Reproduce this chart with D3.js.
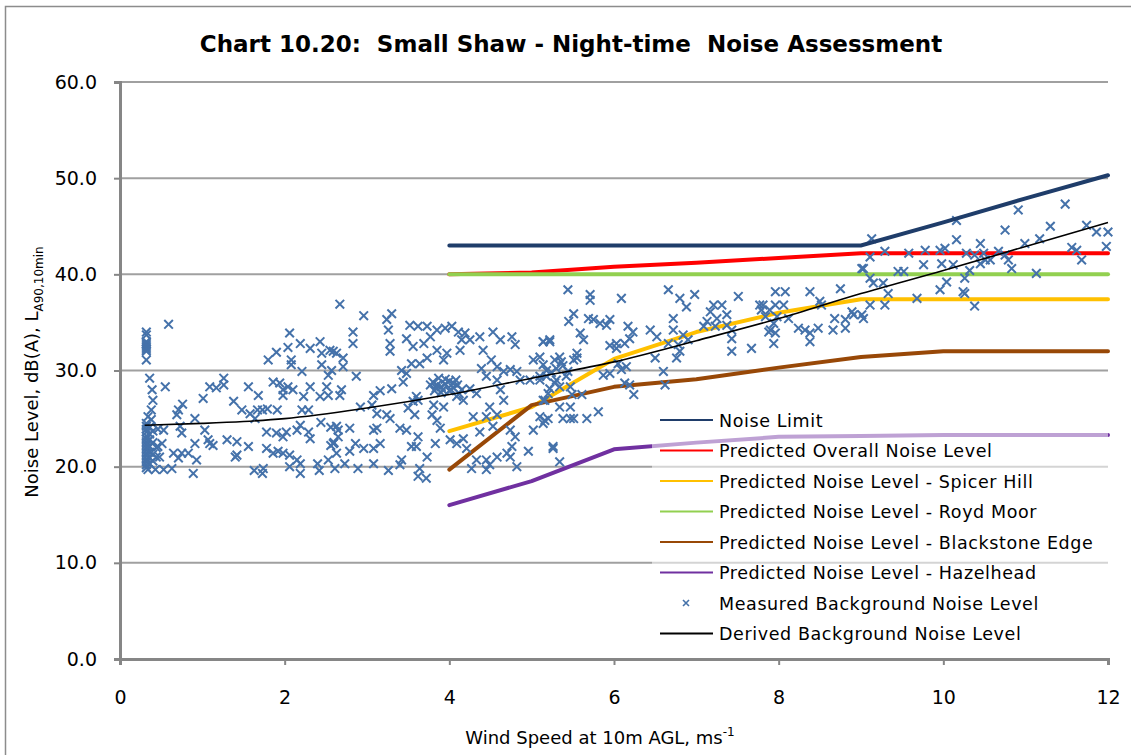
<!DOCTYPE html>
<html>
<head>
<meta charset="utf-8">
<script src="https://cdnjs.cloudflare.com/ajax/libs/d3/7.8.5/d3.min.js"></script>
<style>
  body { margin: 0; background: #fff; }
  text { font-family: "DejaVu Sans", Verdana, sans-serif; fill: #000; }
</style>
</head>
<body>
<div id="chart"></div>
<script>
// wind speeds for the predicted curves
var windSpeeds = [4, 5, 6, 7, 8, 9, 10, 11, 12];
var noiseLimit = [43, 43, 43, 43, 43, 43, 45.4, 47.9, 50.3];
var overallLevel = [40.0, 40.2, 40.8, 41.2, 41.7, 42.2, 42.2, 42.2, 42.2];
var spicerHill = [23.7, 26.2, 31.2, 34.0, 36.0, 37.4, 37.4, 37.4, 37.4];
var roydMoor = [40, 40, 40, 40, 40, 40, 40, 40, 40];
var blackstoneEdge = [19.7, 26.4, 28.3, 29.1, 30.3, 31.4, 32.0, 32.0, 32.0];
var hazelhead = [16.0, 18.5, 21.8, 22.5, 23.1, 23.2, 23.3, 23.3, 23.3];

// derived background curve
var derivedX = [0.3, 1, 1.5, 2, 3, 4, 5, 6, 7, 8, 9, 10, 11, 12];
var derivedY = [24.3, 24.5, 24.7, 25.0, 26.1, 27.5, 29.2, 30.9, 33.1, 35.4, 38.0, 40.4, 42.9, 45.4];

var xTicks = [0, 2, 4, 6, 8, 10, 12];
var yTicks = [0, 10, 20, 30, 40, 50, 60];

// measured background noise, [wind speed, dB]
var measured = [
  [0.32,34.0],[0.32,33.7],[0.32,33.0],[0.32,32.8],[0.32,32.6],[0.32,32.4],[0.32,32.2],[0.32,32.0],
  [0.32,31.1],[0.36,29.2],[0.39,28.0],[0.40,26.9],[0.38,25.9],[0.34,25.2],[0.38,24.9],
  [0.32,24.5],[0.32,24.2],[0.32,23.9],[0.32,23.6],[0.32,23.2],[0.32,22.9],[0.32,22.6],[0.32,22.3],
  [0.32,22.0],[0.32,21.7],[0.32,21.4],[0.32,21.1],[0.32,20.8],[0.32,20.5],[0.32,20.2],[0.32,19.9],
  [0.36,24.1],[0.36,23.4],[0.36,22.8],[0.36,22.1],[0.36,21.5],[0.36,20.9],[0.36,20.3],
  [0.40,23.7],[0.40,22.5],[0.40,21.3],[0.40,20.6],[0.44,22.0],[0.44,21.0],
  [0.59,34.8],[0.55,28.3],[0.71,25.9],[0.69,25.4],[0.76,26.5],[0.73,24.2],[0.75,23.5],
  [0.91,25.0],[1.03,23.8],[1.01,27.1],[1.09,28.3],[1.17,28.2],[1.26,29.2],[1.26,28.5],
  [1.38,26.8],[1.48,25.9],[1.56,28.3],[1.58,25.5],[1.64,25.0],[1.67,25.9],[1.68,27.4],
  [1.73,25.9],[1.79,26.0],[1.91,25.9],[1.86,28.8],[1.94,28.7],[1.98,28.0],[2.04,28.3],
  [2.10,28.0],[1.98,27.4],[2.23,27.3],[2.31,28.3],[2.29,25.9],[2.21,25.9],[2.19,24.3],
  [2.15,23.8],[2.29,23.6],[2.31,22.9],[1.98,23.1],[1.90,23.5],[1.78,23.6],[2.02,23.6],
  [1.78,21.9],[1.86,21.4],[1.92,21.6],[1.98,21.4],[2.06,21.2],[2.15,20.7],[2.19,20.3],
  [2.06,20.0],[2.19,19.3],[2.40,20.3],[2.42,19.6],[2.53,20.7],[2.56,22.2],[2.60,22.5],
  [2.65,23.1],[2.44,24.6],[2.56,24.1],[2.65,23.8],[2.53,27.4],[2.43,27.3],[1.63,19.6],
  [1.73,19.3],[1.74,19.8],[1.56,22.1],[1.30,22.8],[1.42,22.6],[1.42,21.2],[1.40,21.0],
  [1.09,22.4],[1.13,22.2],[1.07,22.8],[0.91,22.4],[0.93,20.7],[0.89,19.3],[0.83,21.4],
  [0.75,21.4],[0.71,20.9],[0.65,21.4],[0.63,19.8],[0.53,19.7],[0.43,19.7],[0.34,19.7],
  [0.46,22.1],[0.48,21.0],[0.51,22.4],[0.53,23.8],[0.46,23.9],
  [2.06,33.9],[2.04,32.4],[2.19,32.8],[1.90,31.9],[1.80,31.1],[2.08,31.1],[2.08,30.6],
  [2.31,32.3],[2.43,33.0],[2.45,31.8],[2.55,32.1],[2.63,31.8],[2.21,29.9],[2.45,30.6],
  [2.53,29.5],[2.51,28.3],
  [2.67,36.9],[2.96,35.7],[3.30,35.9],[3.24,35.3],[3.26,34.2],[2.83,34.0],[2.83,32.8],
  [3.28,32.8],[3.28,32.0],[3.52,34.7],[3.62,34.6],[3.73,34.6],[3.77,33.5],[3.85,34.2],
  [3.95,34.4],[4.03,34.6],[4.11,34.0],[4.19,33.9],[4.15,33.2],[4.13,32.1],[4.25,33.2],
  [4.37,33.5],[4.41,32.1],[4.53,34.0],[4.62,33.2],[4.76,33.5],[4.80,32.7],[5.14,33.0],
  [5.22,33.0],[3.48,33.3],[3.56,32.5],[3.69,32.8],[3.85,32.1],[3.97,31.8],[3.93,31.1],
  [3.73,31.3],[3.64,30.7],[3.54,30.7],[3.42,30.0],[3.48,29.7],[3.44,28.8],[3.30,28.1],
  [2.87,29.4],[2.71,31.3],[2.71,30.4],[2.59,32.0],[2.57,30.0],[2.69,28.0],[2.67,27.4],
  [3.80,28.8],[3.85,28.5],[3.90,28.3],[3.95,28.6],[4.00,28.9],[4.05,28.2],[4.10,28.5],
  [3.82,27.9],[3.90,27.7],[4.00,27.9],[4.12,27.6],[3.95,29.1],[4.08,29.0],[4.15,28.0],
  [3.87,29.2],[4.02,28.0],[3.77,28.5],[3.92,28.0],[4.05,28.7],[3.84,28.2],
  [3.60,27.3],[3.62,26.9],[3.50,26.1],[3.58,25.4],[3.56,26.8],[3.81,26.4],[3.93,26.2],
  [3.79,25.4],[3.85,24.8],[3.89,24.0],[4.01,22.8],[4.09,22.4],[4.17,22.9],[4.21,21.9],
  [4.09,27.3],[4.17,26.9],[4.25,28.1],[4.33,27.6],[4.39,30.2],[4.45,29.4],[4.51,31.1],
  [4.58,30.4],[4.66,29.9],[4.74,30.1],[4.82,29.9],[4.86,29.0],[4.58,29.0],[4.62,28.0],
  [4.66,26.9],[4.49,26.2],[4.58,25.4],[4.45,25.2],[4.29,25.2],[4.37,23.6],[4.53,24.2],
  [4.74,23.8],[4.80,23.1],[4.76,22.1],[4.70,21.4],[4.74,21.0],[4.58,21.0],[4.45,20.7],
  [4.45,19.7],[4.49,20.2],[4.27,19.8],[4.33,20.7],[4.96,21.6],[4.82,20.0],[5.02,31.1],
  [5.10,31.4],[5.14,30.6],[4.98,29.0],[5.10,29.4],[5.22,28.1],[5.16,26.9],[5.10,25.2],
  [5.16,24.8],[5.02,23.8],[5.26,22.1],[3.12,24.0],[3.08,23.8],[3.16,22.4],[3.08,21.9],
  [2.96,21.9],[2.86,22.4],[2.79,21.6],[2.63,24.2],[2.79,24.0],[2.59,22.4],[2.63,21.4],
  [2.73,20.3],[2.61,19.8],[2.89,19.8],[3.08,20.3],[3.26,19.6],[3.42,20.7],[3.40,20.2],
  [3.62,19.0],[3.72,18.8],[3.64,19.8],[3.54,22.1],[3.60,22.1],[3.62,23.1],[3.83,22.4],
  [3.73,21.0],[3.40,24.0],[3.48,23.8],[3.28,25.0],[3.24,25.4],[3.12,25.5],[3.06,26.4],
  [2.92,26.2],[3.08,27.4],[3.16,27.9],
  [5.44,38.4],[5.71,37.9],[5.71,37.3],[6.09,37.5],[6.66,38.4],[6.80,37.5],[6.98,37.9],
  [6.88,36.6],[7.51,37.7],[7.21,36.8],[7.31,36.8],[7.17,36.1],[7.37,35.8],[7.77,36.8],
  [5.51,35.9],[5.45,35.1],[5.69,35.4],[5.75,35.3],[5.83,34.9],[5.95,35.3],[5.91,34.7],
  [5.59,33.9],[5.63,33.2],[6.17,34.6],[6.23,34.0],[6.19,33.3],[6.13,32.8],[5.95,32.6],
  [6.44,34.2],[6.52,33.5],[6.66,32.8],[6.72,35.4],[6.72,34.2],[6.84,33.7],[6.90,33.2],
  [7.09,34.6],[7.13,35.1],[7.25,35.4],[7.23,34.6],[7.37,34.7],[7.43,34.2],[7.43,33.3],
  [7.43,32.0],[7.67,32.3],[7.79,36.3],[7.88,34.0],[5.22,33.2],[5.14,33.0],[5.34,31.4],
  [5.55,31.8],[5.55,31.3],[5.51,31.1],[5.36,30.9],[5.28,31.1],[5.18,29.4],[5.30,29.0],
  [5.42,29.4],[5.47,28.3],[5.34,28.3],[5.10,29.0],[5.20,27.6],[5.14,26.9],[5.20,25.0],
  [5.14,24.5],[5.34,26.2],[5.47,26.2],[5.38,25.0],[5.47,25.0],[5.51,25.0],[5.67,25.0],
  [5.81,25.7],[5.61,27.5],[5.49,27.5],[5.87,29.5],[5.95,29.7],[6.05,30.7],[6.09,30.1],
  [6.13,28.7],[6.19,28.5],[6.15,30.4],[6.24,27.5],[6.03,32.3],[6.03,32.8],[6.50,31.3],
  [6.60,29.9],[6.62,28.5],[6.76,31.3],[6.80,32.0],[6.78,32.7],[5.26,21.9],[5.34,20.5],
  [5.18,30.0],[5.24,29.8],[5.30,30.2],[5.38,30.5],[5.44,29.9],[5.28,28.7],
  [9.13,43.7],[9.11,41.8],[9.29,42.4],[9.58,42.2],[9.78,42.5],[9.96,42.5],[10.02,42.7],
  [10.16,45.6],[10.16,43.6],[9.76,41.0],[9.98,41.1],[10.12,41.0],[9.01,40.6],[9.03,40.6],
  [9.45,40.3],[9.52,40.3],[9.11,39.6],[9.15,39.1],[9.27,39.1],[9.33,38.0],[9.11,36.8],
  [9.29,36.8],[9.68,37.5],[10.04,39.2],[9.96,38.4],[8.75,38.5],[8.38,38.2],[8.50,37.2],
  [8.52,36.8],[7.96,38.2],[8.08,38.2],[7.81,36.8],[7.96,36.8],[8.06,36.8],[7.89,36.3],
  [7.84,35.6],[7.98,35.6],[7.94,34.9],[7.90,34.2],[7.96,33.9],[7.94,32.8],[8.12,35.4],
  [8.24,34.4],[8.32,34.2],[8.38,33.9],[8.38,33.0],[8.48,34.4],[8.66,34.2],[8.68,35.4],
  [8.81,35.3],[8.81,34.4],[8.91,35.8],[8.89,36.1],[9.01,35.8],[9.03,35.4],
  [10.91,46.7],[11.48,47.3],[10.75,44.6],[10.45,43.2],[10.99,43.2],[11.17,43.7],
  [11.30,45.0],[11.74,45.1],[11.86,44.4],[12.0,44.4],[11.98,42.9],[11.56,42.8],
  [11.62,42.5],[11.68,41.5],[10.28,42.2],[10.38,42.0],[10.49,42.2],[10.67,42.4],
  [10.75,42.0],[10.79,41.5],[10.45,41.1],[10.51,41.5],[10.57,41.5],[10.83,40.6],
  [10.32,40.4],[10.26,39.6],[11.13,40.1],[10.24,38.2],[10.26,38.0],[10.38,36.7]
];

var width = 1131, height = 755;
var svg = d3.select("#chart").append("svg")
  .attr("width", width)
  .attr("height", height);

var x = d3.scaleLinear().domain([0, 12]).range([120, 1108]);
var y = d3.scaleLinear().domain([0, 60]).range([659, 82]);

// outer border
svg.append("rect")
  .attr("x", 5.5).attr("y", 6.5)
  .attr("width", 1140).attr("height", 760)
  .attr("fill", "none").attr("stroke", "#8c8c8c").attr("stroke-width", 1.5);

// title
svg.append("text")
  .attr("x", 571).attr("y", 52)
  .attr("text-anchor", "middle")
  .attr("font-size", 23).attr("font-weight", "bold")
  .attr("xml:space", "preserve")
  .text("Chart 10.20:  Small Shaw - Night-time  Noise Assessment");

// gridlines
svg.append("g").selectAll("line")
  .data(yTicks.filter(function(d) { return d > 0; }))
  .enter().append("line")
  .attr("x1", x(0)).attr("x2", x(12))
  .attr("y1", function(d) { return y(d); }).attr("y2", function(d) { return y(d); })
  .attr("stroke", "#a0a0a0").attr("stroke-width", 2);

// axes
var yAxis = d3.axisLeft(y).tickValues(yTicks).tickSize(6).tickPadding(8)
  .tickFormat(d3.format(".1f"));
var gy = svg.append("g").attr("transform", "translate(" + x(0) + ",0)").call(yAxis);
gy.select(".domain").attr("stroke", "#868686").attr("stroke-width", 3);
gy.selectAll(".tick line").attr("stroke", "#868686").attr("stroke-width", 2);
gy.selectAll(".tick text").attr("font-size", 19).attr("font-family", "DejaVu Sans").attr("dx", -9);

var xAxis = d3.axisBottom(x).tickValues(xTicks).tickSize(6).tickPadding(26);
var gx = svg.append("g").attr("transform", "translate(0," + y(0) + ")").call(xAxis);
gx.select(".domain").attr("stroke", "#868686").attr("stroke-width", 3);
gx.selectAll(".tick line").attr("stroke", "#868686").attr("stroke-width", 2);
gx.selectAll(".tick text").attr("font-size", 19).attr("font-family", "DejaVu Sans");

// axis titles
var xt = svg.append("text")
  .attr("x", 600).attr("y", 744)
  .attr("text-anchor", "middle")
  .attr("font-size", 18);
xt.append("tspan").text("Wind Speed at 10m AGL, ms");
xt.append("tspan").attr("font-size", 12).attr("dy", -8).text("-1");

var yt = svg.append("text")
  .attr("transform", "translate(38,372) rotate(-90)")
  .attr("text-anchor", "middle")
  .attr("font-size", 18);
yt.append("tspan").text("Noise Level, dB(A), L");
yt.append("tspan").attr("font-size", 12).attr("dy", 5).text("A90,10min");

// lines
var line = d3.line()
  .x(function(d) { return x(d[0]); })
  .y(function(d) { return y(d[1]); });

function pairs(xs, ys) {
  return xs.map(function(v, i) { return [v, ys[i]]; });
}

var series = [
  { name: "Noise Limit", values: noiseLimit, color: "#1f3d6a", width: 4 },
  { name: "Predicted Overall Noise Level", values: overallLevel, color: "#ff0000", width: 4 },
  { name: "Predicted Noise Level - Spicer Hill", values: spicerHill, color: "#ffc000", width: 4 },
  { name: "Predicted Noise Level - Royd Moor", values: roydMoor, color: "#92d050", width: 4 },
  { name: "Predicted Noise Level - Blackstone Edge", values: blackstoneEdge, color: "#984807", width: 4 },
  { name: "Predicted Noise Level - Hazelhead", values: hazelhead, color: "#7030a0", width: 4 }
];

svg.append("g").selectAll("path")
  .data(series.slice(1))
  .enter().append("path")
  .attr("d", function(s) { return line(pairs(windSpeeds, s.values)); })
  .attr("fill", "none")
  .attr("stroke", function(s) { return s.color; })
  .attr("stroke-width", function(s) { return s.width; })
  .attr("stroke-linejoin", "round")
  .attr("stroke-linecap", "round");

// measured points as crosses
var cross = 4.3;
var pts = svg.append("g").attr("stroke", "#4572aa").attr("stroke-width", 2);
pts.selectAll("path")
  .data(measured)
  .enter().append("path")
  .attr("d", function(d) {
    var cx = x(d[0]), cy = y(d[1]);
    return "M" + (cx - cross) + "," + (cy - cross) + "L" + (cx + cross) + "," + (cy + cross) +
      "M" + (cx - cross) + "," + (cy + cross) + "L" + (cx + cross) + "," + (cy - cross);
  });

// noise limit on top of points
svg.append("path")
  .attr("d", line(pairs(windSpeeds, series[0].values)))
  .attr("fill", "none")
  .attr("stroke", series[0].color)
  .attr("stroke-width", 4)
  .attr("stroke-linecap", "round");

// derived background
svg.append("path")
  .attr("d", line.curve(d3.curveMonotoneX)(pairs(derivedX, derivedY)))
  .attr("fill", "none")
  .attr("stroke", "#000")
  .attr("stroke-width", 1.6);

// legend
var legendItems = series.map(function(s) { return { name: s.name, color: s.color, type: "line" }; });
legendItems.push({ name: "Measured Background Noise Level", color: "#4572aa", type: "cross" });
legendItems.push({ name: "Derived Background Noise Level", color: "#000", type: "line" });

var legend = svg.append("g");
legend.append("rect")
  .attr("x", 652).attr("y", 405)
  .attr("width", 456).attr("height", 245)
  .attr("fill", "#fff").attr("fill-opacity", 0.55);

var li = legend.selectAll("g.item")
  .data(legendItems)
  .enter().append("g")
  .attr("class", "item")
  .attr("transform", function(d, i) { return "translate(660," + (420 + i * 30.5) + ")"; });

li.filter(function(d) { return d.type === "line"; })
  .append("line")
  .attr("x1", 0).attr("x2", 53)
  .attr("stroke", function(d) { return d.color; })
  .attr("stroke-width", 2);

li.filter(function(d) { return d.type === "cross"; })
  .append("path")
  .attr("d", "M23,-3L29,3M23,3L29,-3")
  .attr("stroke", function(d) { return d.color; })
  .attr("stroke-width", 1.6);

li.append("text")
  .attr("x", 59).attr("y", 6.5)
  .attr("font-size", 17.5)
  .attr("letter-spacing", 0.6)
  .text(function(d) { return d.name; });
</script>
</body>
</html>
